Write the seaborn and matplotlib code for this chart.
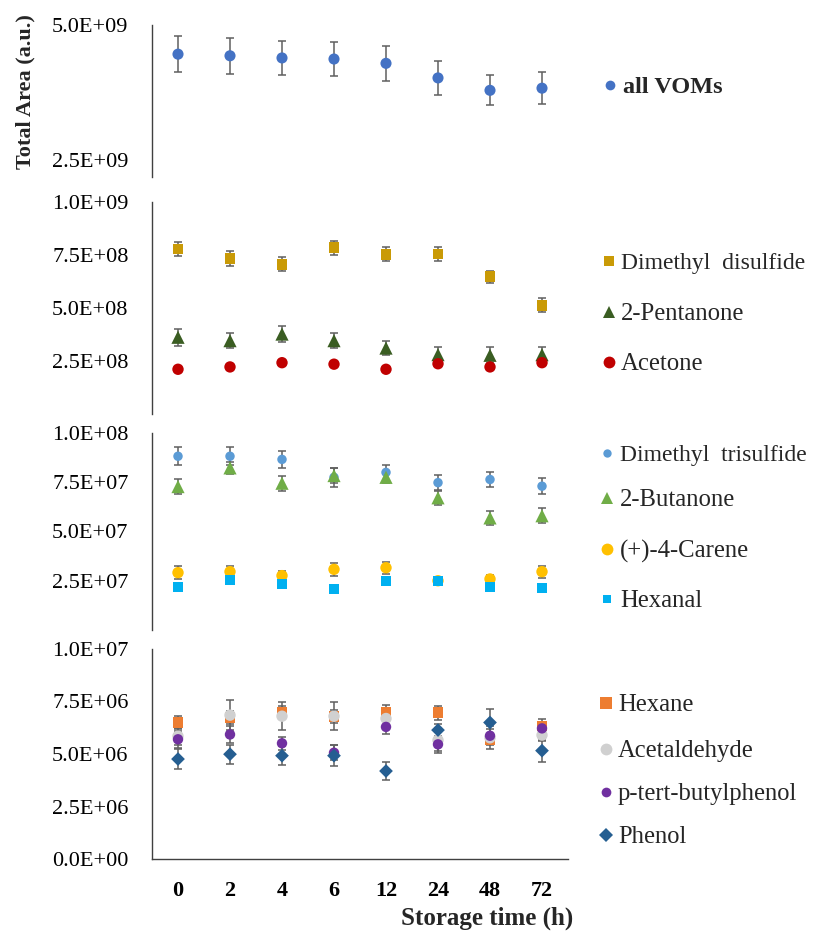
import numpy as np
import pandas as pd
import matplotlib
matplotlib.use("Agg")
import matplotlib.pyplot as plt
import seaborn as sns
from matplotlib.lines import Line2D
from matplotlib.ticker import FuncFormatter

# ---------------- data ----------------
time_labels = ["0", "2", "4", "6", "12", "24", "48", "72"]

all_voms = [4.46e9, 4.43e9, 4.39e9, 4.37e9, 4.29e9, 4.02e9, 3.79e9, 3.83e9]
all_voms_err = [0.33e9, 0.33e9, 0.32e9, 0.32e9, 0.32e9, 0.31e9, 0.28e9, 0.30e9]

dimethyl_disulfide = [7.78e8, 7.34e8, 7.06e8, 7.85e8, 7.53e8, 7.55e8, 6.47e8, 5.12e8]
dimethyl_disulfide_err = [3.4e7, 3.5e7, 3.3e7, 3.3e7, 3.3e7, 3.1e7, 2.8e7, 3.3e7]
pentanone = [3.62e8, 3.46e8, 3.77e8, 3.46e8, 3.11e8, 2.80e8, 2.77e8, 2.80e8]
pentanone_err = [4.0e7, 3.6e7, 3.9e7, 3.6e7, 3.5e7, 3.6e7, 3.8e7, 3.6e7]
acetone = [2.11e8, 2.22e8, 2.42e8, 2.35e8, 2.11e8, 2.37e8, 2.22e8, 2.42e8]
acetone_err = [1.0e7] * 8

dimethyl_trisulfide = [8.82e7, 8.82e7, 8.66e7, 7.75e7, 8.0e7, 7.48e7, 7.64e7, 7.30e7]
dimethyl_trisulfide_err = [4.6e6, 4.6e6, 4.2e6, 4.7e6, 3.9e6, 3.9e6, 3.7e6, 4.1e6]
butanone = [7.28e7, 8.23e7, 7.45e7, 7.84e7, 7.75e7, 6.71e7, 5.69e7, 5.80e7]
butanone_err = [3.6e6, 3.0e6, 3.9e6, 3.9e6, 3.0e6, 3.7e6, 3.4e6, 3.9e6]
carene = [2.91e7, 2.96e7, 2.76e7, 3.08e7, 3.16e7, 2.50e7, 2.59e7, 2.96e7]
carene_err = [3.4e6, 3.0e6, 2.5e6, 3.4e6, 3.0e6, 2.0e6, 2.0e6, 3.0e6]
hexanal = [2.19e7, 2.53e7, 2.33e7, 2.08e7, 2.50e7, 2.50e7, 2.19e7, 2.14e7]
hexanal_err = [1.0e6] * 8

hexane = [6.50e6, 6.74e6, 7.00e6, 6.80e6, 6.98e6, 6.96e6, 5.70e6, 6.33e6]
hexane_err = [3.2e5, 3.0e5, 3.0e5, 3.0e5, 3.5e5, 3.3e5, 2.5e5, 3.2e5]
acetaldehyde = [5.85e6, 6.85e6, 6.80e6, 6.80e6, 6.69e6, 5.66e6, 5.77e6, 5.90e6]
acetaldehyde_err = [4.0e5, 7.1e5, 6.8e5, 6.8e5, 5.0e5, 6.0e5, 5.5e5, 3.0e5]
tert_butylphenol = [5.70e6, 5.93e6, 5.51e6, 5.06e6, 6.29e6, 5.46e6, 5.87e6, 6.22e6]
tert_butylphenol_err = [4.0e5, 4.0e5, 3.2e5, 3.6e5, 3.2e5, 3.0e5, 3.0e5, 3.0e5]
phenol = [4.76e6, 4.99e6, 4.92e6, 4.92e6, 4.19e6, 6.14e6, 6.50e6, 5.16e6]
phenol_err = [4.6e5, 4.5e5, 4.6e5, 5.0e5, 4.3e5, 3.0e5, 6.3e5, 5.3e5]

# ---------------- styling ----------------
W, H = 813, 932
sns.set_theme(style="white")
plt.rcParams["font.family"] = ["Liberation Serif", "DejaVu Serif"]

# series: (label, values, errs, color, marker, plot_ms, legend_ms, legend_fontsize)
panels = [
    dict(px=(25, 177), ylim=(2.185e9, 5.0e9), ticks=[2.5e9, 5.0e9],
         series=[("all VOMs", all_voms, all_voms_err, "#4472C4", "o", 8.0, 7.0, 17.5)],
         draw_order=[0], leg_y=[85], bold=True, mx=610, tx=623),
    dict(px=(202, 414), ylim=(0, 1.0e9), ticks=[2.5e8, 5.0e8, 7.5e8, 1.0e9],
         series=[("Dimethyl  disulfide", dimethyl_disulfide, dimethyl_disulfide_err, "#C99A06", "s", 7.8, 7.2, 17.0),
                 ("2-Pentanone", pentanone, pentanone_err, "#3A5D22", "^", 9.5, 9.0, 17.8),
                 ("Acetone", acetone, acetone_err, "#C00000", "o", 8.2, 8.5, 17.8)],
         draw_order=[0, 2, 1], leg_y=[261, 312, 362], bold=False, mx=609, tx=621),
    dict(px=(433, 630), ylim=(0, 1.0e8), ticks=[2.5e7, 5.0e7, 7.5e7, 1.0e8],
         series=[("Dimethyl  trisulfide", dimethyl_trisulfide, dimethyl_trisulfide_err, "#5B9BD5", "o", 6.8, 6.0, 17.0),
                 ("2-Butanone", butanone, butanone_err, "#70AD47", "^", 9.5, 9.0, 17.8),
                 ("(+)-4-Carene", carene, carene_err, "#FFC000", "o", 8.2, 8.5, 17.8),
                 ("Hexanal", hexanal, hexanal_err, "#00B0F0", "s", 7.2, 6.0, 17.8)],
         draw_order=[3, 2, 1, 0], leg_y=[453, 498, 549, 599], bold=False, mx=607, tx=620),
    dict(px=(649, 859), ylim=(0, 1.0e7), ticks=[0, 2.5e6, 5.0e6, 7.5e6, 1.0e7],
         series=[("Hexane", hexane, hexane_err, "#ED7D31", "s", 7.8, 8.5, 17.7),
                 ("Acetaldehyde", acetaldehyde, acetaldehyde_err, "#D0D0D0", "o", 8.2, 8.5, 17.7),
                 ("p-tert-butylphenol", tert_butylphenol, tert_butylphenol_err, "#7030A0", "o", 7.5, 7.0, 17.7),
                 ("Phenol", phenol, phenol_err, "#255E91", "D", 7.0, 7.5, 17.7)],
         draw_order=[0, 1, 3, 2], leg_y=[703, 749, 792, 835], bold=False, mx=606, tx=618),
]

fig = plt.figure(figsize=(W / 100, H / 100), dpi=100)
ax_left, ax_right = 152, 568
positions = np.arange(len(time_labels))
fmt = FuncFormatter(lambda v, p: f"{v:.1E}")

for i, pan in enumerate(panels):
    top, bot = pan["px"]
    ax = fig.add_axes([ax_left / W, 1 - bot / H, (ax_right - ax_left) / W, (bot - top) / H])
    for k in pan["draw_order"]:
        label, vals, errs, col, mk, ms, lms, lfs = pan["series"][k]
        df = pd.DataFrame({"time": positions, "value": vals, "err": errs})
        ax.errorbar(df["time"], df["value"], yerr=df["err"], fmt="none",
                    ecolor="#5F5F5F", elinewidth=1.1, capsize=3.0, capthick=1.1, zorder=2 + k * 0.1)
        sns.scatterplot(data=df, x="time", y="value", ax=ax, marker=mk, color=col,
                        s=ms ** 2, edgecolor="none", linewidth=0, zorder=3 + k * 0.1, legend=False)
    ax.set_xlim(-0.5, len(time_labels) - 0.5)
    ax.set_ylim(*pan["ylim"])
    ax.set_yticks(pan["ticks"])
    ax.yaxis.set_major_formatter(fmt)
    ax.set_xlabel("")
    ax.set_ylabel("")
    for s in ["top", "right"]:
        ax.spines[s].set_visible(False)
    ax.spines["left"].set_color("#404040")
    ax.spines["left"].set_linewidth(1.0)
    ax.tick_params(axis="y", length=0, pad=17, labelsize=16, colors="black")
    if i == len(panels) - 1:
        ax.spines["bottom"].set_color("#404040")
        ax.spines["bottom"].set_linewidth(1.0)
        ax.set_xticks(positions)
        ax.set_xticklabels(time_labels, fontweight="bold", fontsize=16)
        ax.tick_params(axis="x", length=0, pad=15.5, colors="black")
    else:
        ax.spines["bottom"].set_visible(False)
        ax.set_xticks([])

    # legend entries (marker centred on the cap-height middle of the text)
    for (label, vals, errs, col, mk, ms, lms, lfs), ly in zip(pan["series"], pan["leg_y"]):
        fig.add_artist(Line2D([pan["mx"] / W], [1 - ly / H], marker=mk, color=col, markersize=lms,
                              markeredgewidth=0, linestyle="none", transform=fig.transFigure))
        cap_half_px = 0.5 * 0.66 * lfs * 100 / 72
        fig.text(pan["tx"] / W, 1 - (ly + cap_half_px) / H, label, fontsize=lfs,
                 va="baseline", ha="left",
                 fontweight="bold" if pan["bold"] else "normal")

fig.text(25 / W, 1 - 92 / H, "Total Area (a.u.)", rotation=90, fontsize=16,
         fontweight="bold", ha="center", va="center")
fig.text(487 / W, 1 - 918 / H, "Storage time (h)", fontsize=18,
         fontweight="bold", ha="center", va="center")

fig.savefig("out.png", dpi=100)
